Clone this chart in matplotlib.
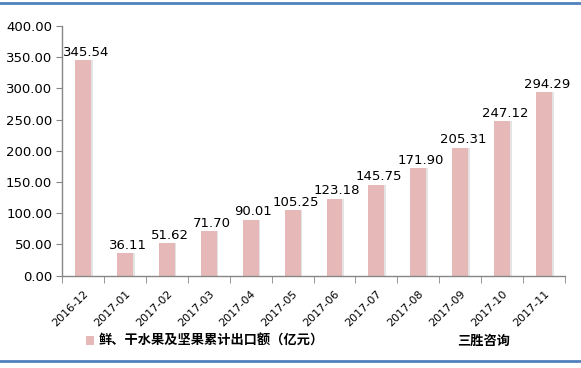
import matplotlib.pyplot as plt
from matplotlib.patches import Patch
from matplotlib.lines import Line2D
import numpy as np

plt.rcParams['font.family'] = ['Noto Sans CJK SC', 'DejaVu Sans']

# 数据
months = ['2016-12', '2017-01', '2017-02', '2017-03', '2017-04', '2017-05',
          '2017-06', '2017-07', '2017-08', '2017-09', '2017-10', '2017-11']
values = [345.54, 36.11, 51.62, 71.70, 90.01, 105.25,
          123.18, 145.75, 171.90, 205.31, 247.12, 294.29]
yticks = [0, 50, 100, 150, 200, 250, 300, 350, 400]
series_name = '鲜、干水果及坚果累计出口额（亿元）'
source = '三胜咨询'

bar_color = '#E6B9B8'
axis_color = '#868686'

fig = plt.figure(figsize=(5.81, 3.68), dpi=100)
ax = fig.add_axes([0.1067, 0.2508, 0.8658, 0.6785])

x = np.arange(len(months))
# sombra gris a la derecha
ax.bar(x + 0.04, values, width=0.38, color='#E4E4E4', zorder=1)
ax.bar(x, values, width=0.38, color=bar_color, zorder=2)

for xi, v in zip(x, values):
    ax.annotate(f'{v:.2f}', (xi, v), xytext=(2, 1), textcoords='offset points',
                ha='center', va='bottom', fontsize=9.5, family='DejaVu Sans',
                color='#000000', zorder=3)

ax.set_xlim(-0.5, len(months) - 0.5)
ax.set_ylim(0, 400)
ax.set_yticks(yticks)
ax.set_yticklabels([f'{t:.2f}' for t in yticks], fontsize=9.5, family='DejaVu Sans')

ax.set_xticks(x)
ax.set_xticklabels(months, rotation=45, ha='right', rotation_mode='anchor',
                   fontsize=8, family='DejaVu Sans')
ax.tick_params(axis='x', which='major', length=0, pad=9)
ax.set_xticks(np.arange(len(months) + 1) - 0.5, minor=True)
ax.tick_params(axis='x', which='minor', length=5, color=axis_color, direction='out')
ax.tick_params(axis='y', length=4, color=axis_color, direction='out', pad=3)

for s in ['top', 'right']:
    ax.spines[s].set_visible(False)
for s in ['left', 'bottom']:
    ax.spines[s].set_color(axis_color)
    ax.spines[s].set_linewidth(1)

# leyenda y fuente
fig.legend(handles=[Patch(facecolor=bar_color, label=series_name)],
           loc='center left', bbox_to_anchor=(0.127, 0.073), frameon=False,
           handlelength=0.6, handleheight=0.6, handletextpad=0.4,
           prop={'family': 'Noto Sans CJK SC', 'size': 9.5, 'weight': 'bold'})
fig.text(0.786, 0.073, source, fontsize=9.5, va='center', ha='left', weight='bold')

# líneas azules del marco
fig.add_artist(Line2D([0, 1], [0.992, 0.992], transform=fig.transFigure,
                      color='#4F81BD', linewidth=2))
fig.add_artist(Line2D([0, 1], [0.019, 0.019], transform=fig.transFigure,
                      color='#4F81BD', linewidth=2))

plt.savefig('out.png', dpi=100)
